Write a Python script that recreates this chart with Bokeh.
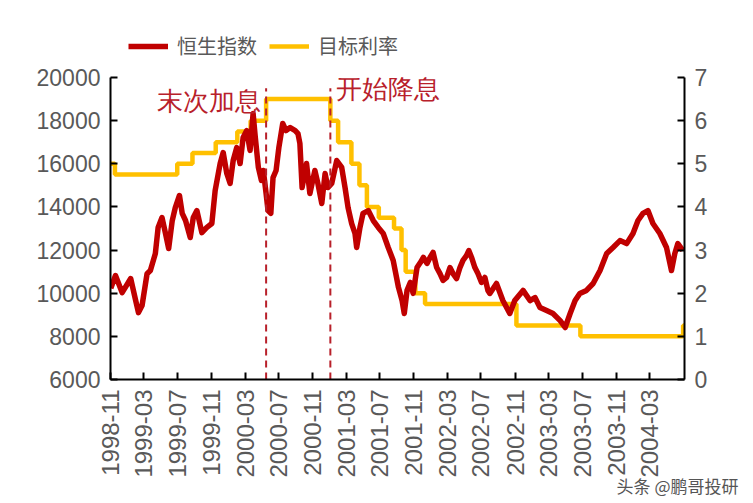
import pandas as pd
from math import pi
from bokeh.plotting import figure
from bokeh.models import (Range1d, LinearAxis, FixedTicker, Legend, LegendItem,
                          DatetimeTickFormatter, Title)
from bokeh.embed import file_html
from bokeh.resources import INLINE

# ---------------- data ----------------
hsi_dates = [
    "1998-11-02", "1998-11-19", "1998-12-13", "1999-01-13", "1999-01-31", "1999-02-10", "1999-02-23", "1999-03-13", "1999-03-25", "1999-04-12",
    "1999-04-22", "1999-05-06", "1999-05-18", "1999-05-30", "1999-06-12", "1999-06-23", "1999-07-08", "1999-07-18", "1999-07-30", "1999-08-16",
    "1999-08-27", "1999-09-09", "1999-09-27", "1999-10-15", "1999-11-02", "1999-11-14", "1999-12-02", "1999-12-13", "1999-12-26", "2000-01-07",
    "2000-01-18", "2000-01-31", "2000-02-12", "2000-02-23", "2000-03-07", "2000-03-19", "2000-03-30", "2000-04-07", "2000-04-18", "2000-04-29",
    "2000-05-06", "2000-05-16", "2000-05-23", "2000-06-02", "2000-06-10", "2000-06-21", "2000-07-01", "2000-07-15", "2000-07-27", "2000-08-11",
    "2000-08-29", "2000-09-08", "2000-09-15", "2000-09-23", "2000-10-09", "2000-10-21", "2000-11-08", "2000-11-19", "2000-12-03", "2000-12-15",
    "2000-12-25", "2001-01-08", "2001-01-26", "2001-02-13", "2001-02-25", "2001-03-08", "2001-03-21", "2001-04-02", "2001-04-08", "2001-04-20",
    "2001-05-01", "2001-05-20", "2001-06-07", "2001-06-25", "2001-07-13", "2001-07-31", "2001-08-18", "2001-09-06", "2001-09-19", "2001-09-27",
    "2001-10-07", "2001-10-19", "2001-10-29", "2001-11-12", "2001-11-24", "2001-12-05", "2001-12-18", "2001-12-29", "2002-01-09", "2002-01-22",
    "2002-02-03", "2002-02-14", "2002-02-27", "2002-03-11", "2002-03-22", "2002-04-04", "2002-04-16", "2002-04-27", "2002-05-10", "2002-05-18",
    "2002-05-28", "2002-06-09", "2002-06-20", "2002-07-03", "2002-07-15", "2002-07-26", "2002-08-02", "2002-08-26", "2002-09-18", "2002-10-13",
    "2002-10-31", "2002-11-30", "2002-12-25", "2003-01-12", "2003-01-30", "2003-02-23", "2003-03-18", "2003-04-13", "2003-05-01", "2003-05-19",
    "2003-06-06", "2003-06-23", "2003-07-17", "2003-08-10", "2003-09-04", "2003-09-28", "2003-10-21", "2003-11-15", "2003-12-09", "2004-01-01",
    "2004-01-19", "2004-02-06", "2004-02-24", "2004-03-13", "2004-04-07", "2004-05-01", "2004-05-19", "2004-05-31", "2004-06-11", "2004-06-29",
]
hsi_values = [
    10230, 10820, 10030, 10680, 9660, 9100, 9430, 10900, 11050, 11840,
    13050, 13510, 12810, 12070, 13370, 13970, 14530, 13700, 13370, 12580,
    13510, 13830, 12810, 13050, 13230, 14760, 16010, 16520, 15550, 15090,
    16150, 16750, 16010, 17220, 17540, 16620, 18330, 17220, 15830, 15230,
    15690, 14620, 13830, 13700, 15360, 15690, 16750, 17870, 17540, 17680,
    17540, 17400, 16940, 14900, 16010, 14620, 15690, 15090, 14160, 15550,
    14900, 15090, 16150, 15830, 14900, 13970, 13230, 12770, 12120, 13050,
    13700, 13830, 13370, 13050, 12770, 12120, 11520, 10270, 9660, 9060,
    10130, 10500, 9990, 11190, 11420, 11660, 11380, 11660, 11890, 11190,
    10910, 10590, 10730, 11190, 10910, 10680, 11190, 11520, 11750, 11980,
    11660, 11190, 10910, 10500, 10730, 10130, 9990, 10450, 9660, 9060,
    9660, 10130, 9660, 9800, 9340, 9200, 9060, 8730, 8410, 9060,
    9660, 9990, 10130, 10450, 11050, 11840, 12120, 12440, 12300, 12770,
    13370, 13700, 13830, 13230, 12770, 12120, 11050, 11840, 12300, 11980,
]
rate_dates = [
    "1998-11-01", "1998-11-17", "1999-06-30", "1999-08-24", "1999-11-16", "2000-02-02",
    "2000-03-21", "2000-05-16", "2001-01-03", "2001-01-31", "2001-03-20", "2001-04-18",
    "2001-05-15", "2001-06-27", "2001-08-21", "2001-09-17", "2001-10-02", "2001-11-06",
    "2001-12-11", "2002-11-06", "2003-06-25", "2004-06-30", "2004-07-05",
]
rate_values = [
    5.0, 4.75, 5.0, 5.25, 5.5, 5.75,
    6.0, 6.5, 6.0, 5.5, 5.0, 4.5,
    4.0, 3.75, 3.5, 3.0, 2.5, 2.0,
    1.75, 1.25, 1.0, 1.25, 1.25,
]
event_dates = ["2000-05-16", "2001-01-03"]
event_labels = ["末次加息", "开始降息"]
x_tick_labels = ["1998-11", "1999-03", "1999-07", "1999-11", "2000-03", "2000-07",
                 "2000-11", "2001-03", "2001-07", "2001-11", "2002-03", "2002-07",
                 "2002-11", "2003-03", "2003-07", "2003-11", "2004-03"]
left_ticks = [6000, 8000, 10000, 12000, 14000, 16000, 18000, 20000]
right_ticks = [0, 1, 2, 3, 4, 5, 6, 7]
series_names = ["恒生指数", "目标利率"]
watermark = "头条 @鹏哥投研"

assert len(hsi_dates) == len(hsi_values)

hsi_x = pd.to_datetime(hsi_dates)
rate_x = pd.to_datetime(rate_dates)
ev_x = pd.to_datetime(event_dates)

RED = "#C00000"
YEL = "#FFC000"
ANN = "#B8202A"
GRAY = "#595959"
NUM_FONT = "Liberation Sans"

# The frame reaches up to hold the legend; the axes are bounded to their value ranges.
TOP_PAD = 57 / 302  # fraction of the axis span left free above the axes for the legend
left_lo, left_hi = left_ticks[0], left_ticks[-1]
right_lo, right_hi = right_ticks[0], right_ticks[-1]

p = figure(width=745, height=497, x_axis_type="datetime",
           x_range=Range1d(pd.Timestamp("1998-11-01"), pd.Timestamp("2004-07-05")),
           y_range=Range1d(left_lo, left_hi + (left_hi - left_lo) * TOP_PAD),
           output_backend="svg", toolbar_location=None,
           min_border_left=110, min_border_right=61, min_border_top=20, min_border_bottom=118)
p.extra_y_ranges = {"rate": Range1d(right_lo, right_hi + (right_hi - right_lo) * TOP_PAD)}
p.add_layout(LinearAxis(y_range_name="rate"), "right")

p.xgrid.visible = False
p.ygrid.visible = False
p.outline_line_color = None
p.background_fill_color = "white"
p.border_fill_color = "white"

def style(ax, font, size):
    ax.axis_line_color = "black"
    ax.axis_line_width = 2
    ax.major_tick_line_color = "black"
    ax.major_tick_line_width = 2
    ax.major_tick_in = 7
    ax.major_tick_out = 0
    ax.minor_tick_line_color = None
    ax.major_label_text_font = font
    ax.major_label_text_font_size = size
    ax.major_label_text_color = GRAY
    ax.major_label_standoff = 10

for ax in p.yaxis:
    style(ax, NUM_FONT, "23px")
p.yaxis[0].ticker = FixedTicker(ticks=left_ticks)
p.yaxis[0].bounds = (left_lo, left_hi)
p.yaxis[1].ticker = FixedTicker(ticks=right_ticks)
p.yaxis[1].bounds = (right_lo, right_hi)

xa = p.xaxis[0]
style(xa, NUM_FONT, "24px")
xa.major_label_standoff = 10
xa.ticker = FixedTicker(ticks=[pd.Timestamp(t + "-01").value / 1e6 for t in x_tick_labels])
fmt = "%Y-%m"
xa.formatter = DatetimeTickFormatter(microseconds=fmt, milliseconds=fmt, seconds=fmt, minsec=fmt,
                                     minutes=fmt, hourmin=fmt, hours=fmt, days=fmt,
                                     months=fmt, years=fmt)
xa.major_label_orientation = pi / 2

# target rate (step) then index on top
r_rate = p.step(rate_x, rate_values, mode="after", y_range_name="rate",
                line_color=YEL, line_width=4.5)
r_hsi = p.line(hsi_x, hsi_values, line_color=RED, line_width=5.5, line_join="round")

# event markers
p.segment(x0=ev_x, y0=[0, 0], x1=ev_x, y1=[6.75, 6.75], y_range_name="rate",
          line_color=ANN, line_width=2, line_dash="7 5")
p.text(x=ev_x[:1], y=[6.45], text=event_labels[:1], y_range_name="rate",
       text_align="right", text_baseline="middle", x_offset=-5,
       text_font="Noto Sans CJK SC", text_font_size="26px", text_color=ANN)
p.text(x=ev_x[1:], y=[6.72], text=event_labels[1:], y_range_name="rate",
       text_align="left", text_baseline="middle", x_offset=6,
       text_font="Noto Sans CJK SC", text_font_size="26px", text_color=ANN)

legend = Legend(items=[LegendItem(label=series_names[0], renderers=[r_hsi]),
                       LegendItem(label=series_names[1], renderers=[r_rate])],
                orientation="horizontal", location=(18, 319),
                label_text_font="Noto Sans CJK SC", label_text_font_size="20px",
                label_text_color=GRAY, glyph_width=40, glyph_height=20,
                label_standoff=9, spacing=12, padding=0, margin=0,
                border_line_color=None, background_fill_alpha=0)
p.add_layout(legend)

# platform watermark over the bottom of the date labels
p.add_layout(Title(text=watermark, align="right", offset=-54, standoff=-16,
                   vertical_align="top",
                   text_font="Noto Sans CJK SC", text_font_size="17px",
                   text_font_style="normal", text_color="#555555"), "below")

open("out.html", "w").write(file_html(p, INLINE))
